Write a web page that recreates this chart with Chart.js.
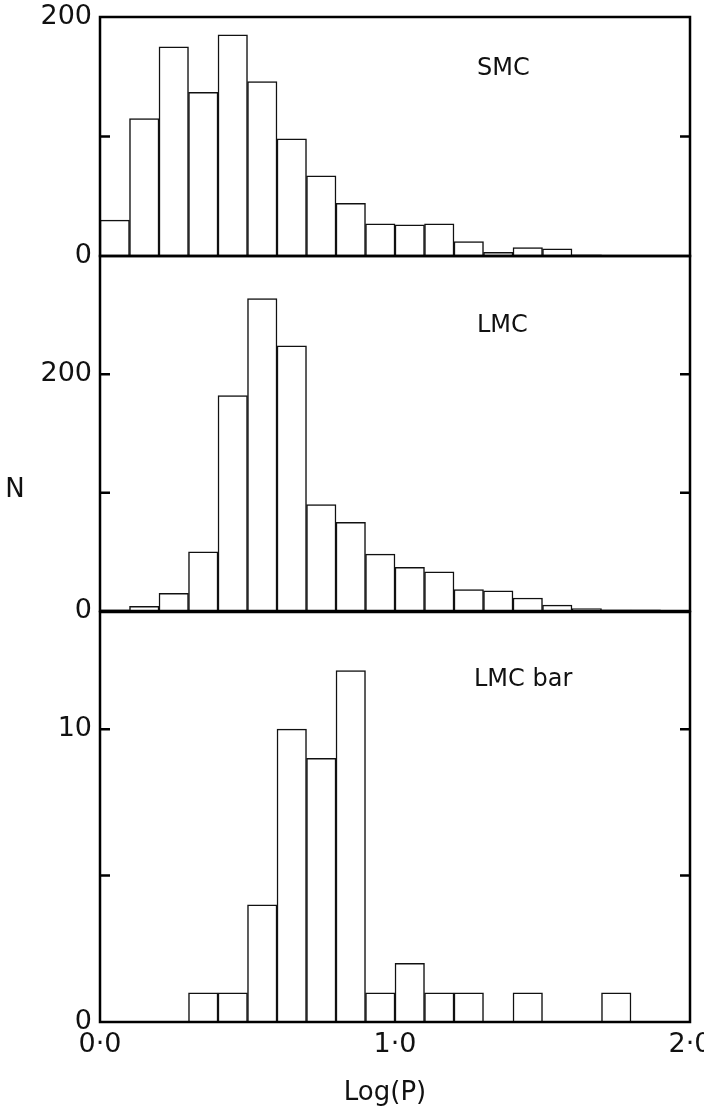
<!DOCTYPE html>
<html>
<head>
<meta charset="utf-8">
<script src="https://cdn.jsdelivr.net/npm/chart.js@4.4.1/dist/chart.umd.min.js"></script>
<style>
  body { margin: 0; background: #fff; }
  #wrap { position: relative; width: 704px; height: 1116px; }
  canvas { position: absolute; left: 0; }
</style>
</head>
<body>
<div id="wrap">
  <canvas id="smc" width="704" height="280" style="top:0px"></canvas>
  <canvas id="lmc" width="704" height="390" style="top:240px"></canvas>
  <canvas id="lmcbar" width="704" height="516" style="top:600px"></canvas>
</div>
<script>
'use strict'

// log(P) bin starts, bins are 0.1 wide
var binStart = [0.0, 0.1, 0.2, 0.3, 0.4, 0.5, 0.6, 0.7, 0.8, 0.9,
                1.0, 1.1, 1.2, 1.3, 1.4, 1.5, 1.6, 1.7, 1.8, 1.9];
var binWidth = 0.1;

var smcCounts = [30, 115, 175, 137, 185, 146, 98, 67, 44, 27,
                 26, 27, 12, 3, 7, 6, 1, 0, 0, 0];
var lmcCounts = [1, 4, 15, 50, 182, 264, 224, 90, 75, 48,
                 37, 33, 18, 17, 11, 5, 2, 1, 1, 0];
var barCounts = [0, 0, 0, 1, 1, 4, 10, 9, 12, 1,
                 2, 1, 1, 0, 1, 0, 0, 1, 0, 0];

var xTickLabels = ['0\u00b70', '1\u00b70', '2\u00b70'];

var smcLabels = [0, 200];
var smcMinor = [100];
var lmcLabels = [0, 200];
var lmcMinor = [100, 200];
var barLabels = [0, 10];
var barMinor = [5, 10];

var FONT = 'DejaVu Sans';

function points(counts) {
    return binStart.map(function (b, i) {
        return { x: b + binWidth / 2, y: counts[i] };
    });
}

var framePlugin = {
    id: 'frame',
    afterDatasetsDraw: function (chart, args, opts) {
        var ctx = chart.ctx;
        var a = chart.chartArea;
        var y = chart.scales.y;
        ctx.save();
        ctx.strokeStyle = '#000';
        ctx.lineWidth = 2.5;
        ctx.strokeRect(a.left, a.top, a.right - a.left, a.bottom - a.top);
        opts.minor.forEach(function (v) {
            var py = y.getPixelForValue(v);
            ctx.beginPath();
            ctx.moveTo(a.left, py);
            ctx.lineTo(a.left + 10, py);
            ctx.moveTo(a.right, py);
            ctx.lineTo(a.right - 10, py);
            ctx.stroke();
        });
        ctx.fillStyle = '#111';
        (opts.texts || []).forEach(function (t) {
            ctx.font = t.size + 'px "' + FONT + '"';
            ctx.textAlign = t.align;
            ctx.textBaseline = 'middle';
            ctx.fillText(t.text, t.x, t.y);
        });
        ctx.restore();
    }
};

function panel(id, counts, yMax, step, labels, minor, padTop, padBottom, showX, texts) {
    var ctx = document.getElementById(id).getContext('2d');
    return new Chart(ctx, {
        type: 'bar',
        data: {
            datasets: [{
                data: points(counts),
                backgroundColor: '#fff',
                borderColor: '#111',
                borderWidth: 1.5,
                barPercentage: 1,
                categoryPercentage: 1
            }]
        },
        options: {
            responsive: false,
            animation: false,
            devicePixelRatio: 1,
            layout: { padding: { top: padTop, bottom: padBottom, left: 0, right: 14 } },
            plugins: {
                legend: { display: false },
                tooltip: { enabled: false },
                frame: { minor: minor, texts: texts }
            },
            scales: {
                x: {
                    type: 'linear',
                    min: 0,
                    max: 2,
                    offset: false,
                    display: showX,
                    grid: { display: false, drawTicks: false },
                    border: { display: false },
                    ticks: {
                        stepSize: 1,
                        padding: 7,
                        color: '#111',
                        font: { family: FONT, size: 27 },
                        maxRotation: 0,
                        callback: function (v, i) { return xTickLabels[i]; }
                    },
                    afterFit: function (s) {
                        if (!showX) return;
                        s.height = 94;
                        s.paddingLeft = 0;
                        s.paddingRight = 0;
                    }
                },
                y: {
                    min: 0,
                    max: yMax,
                    grid: { display: false, drawTicks: false },
                    border: { display: false },
                    ticks: {
                        stepSize: step,
                        padding: 8,
                        color: '#111',
                        font: { family: FONT, size: 27 },
                        callback: function (v) { return labels.indexOf(v) >= 0 ? String(v) : ''; }
                    },
                    afterFit: function (s) {
                        s.width = 100;
                        s.paddingTop = 0;
                        s.paddingBottom = 0;
                    }
                }
            }
        },
        plugins: [framePlugin]
    });
}

// SMC: plot area 17..256
panel('smc', smcCounts, 200, 100, smcLabels, smcMinor, 17, 24, false,
    [{ text: 'SMC', x: 477, y: 69, size: 24, align: 'left' }]);

// LMC: plot area 256..611
panel('lmc', lmcCounts, 300, 100, lmcLabels, lmcMinor, 16, 19, false,
    [{ text: 'LMC', x: 477, y: 86, size: 24, align: 'left' },
     { text: 'N', x: 15, y: 250, size: 26, align: 'center' }]);

// LMC bar: plot area 612..1022
panel('lmcbar', barCounts, 14, 5, barLabels, barMinor, 12, 0, true,
    [{ text: 'LMC bar', x: 474, y: 80, size: 24, align: 'left' },
     { text: 'Log(P)', x: 385, y: 493, size: 26, align: 'center' }]);
</script>
</body>
</html>
